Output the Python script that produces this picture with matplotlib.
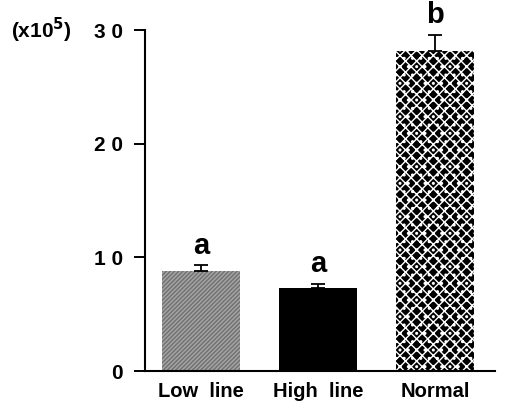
import numpy as np
import matplotlib
matplotlib.use("Agg")
from matplotlib import pyplot as plt

# values (units of x10^5)
groups = ["Low  line", "High  line", "Normal"]
means = [8.8, 7.3, 28.2]
errs = [0.5, 0.4, 1.4]
letters = ["a", "a", "b"]
yticks = [0, 10, 20, 30]
ytick_labels = ["0", "1 0", "2 0", "3 0"]

plt.rcParams['font.family'] = ['Liberation Sans', 'DejaVu Sans']
plt.rcParams['hatch.linewidth'] = 1.0

fig = plt.figure(figsize=(5.05, 4.12), dpi=100)
ax = fig.add_axes([0.287, 0.0995, 0.693, 0.8275])

x = np.arange(len(groups))
faces = ["#a4a4a4", "black", "black"]
hatches = ["////////", None, "xxx.."]
hcolors = ["#707070", "black", "white"]
bars = ax.bar(x, means, width=0.67, color=faces, linewidth=0)
for b, h, hc in zip(bars, hatches, hcolors):
    if h:
        b.set_hatch(h)
        b.set_edgecolor(hc)
        b.set_linewidth(0)

# error bars (upper only)
ax.errorbar(x, means, yerr=[np.zeros(3), errs], fmt='none', ecolor='black',
            elinewidth=1.3, capsize=5, capthick=1.3)

for xi, m, e, l in zip(x, means, errs, letters):
    ax.text(xi, m + e + 0.5, l, ha='center', va='bottom', fontsize=21,
            fontweight='bold')

ax.set_xlim(-0.48, 2.51)
ax.set_ylim(0, 30)
ax.set_yticks(yticks)
ax.set_yticklabels(ytick_labels, fontsize=15, fontweight='bold')
ax.set_xticks(x)
ax.set_xticklabels(groups, fontsize=14.5, fontweight='bold')
ax.tick_params(axis='x', length=0, pad=8)
ax.tick_params(axis='y', direction='out', length=8, width=1.4, pad=8)
for s in ['top', 'right']:
    ax.spines[s].set_visible(False)
for s in ['left', 'bottom']:
    ax.spines[s].set_linewidth(1.5)

fig.text(0.022, 0.925, "(x10$^{\\mathbf{5}}$)", fontsize=15, fontweight='bold',
         va='center', ha='left')

fig.savefig("out.png", dpi=100)
